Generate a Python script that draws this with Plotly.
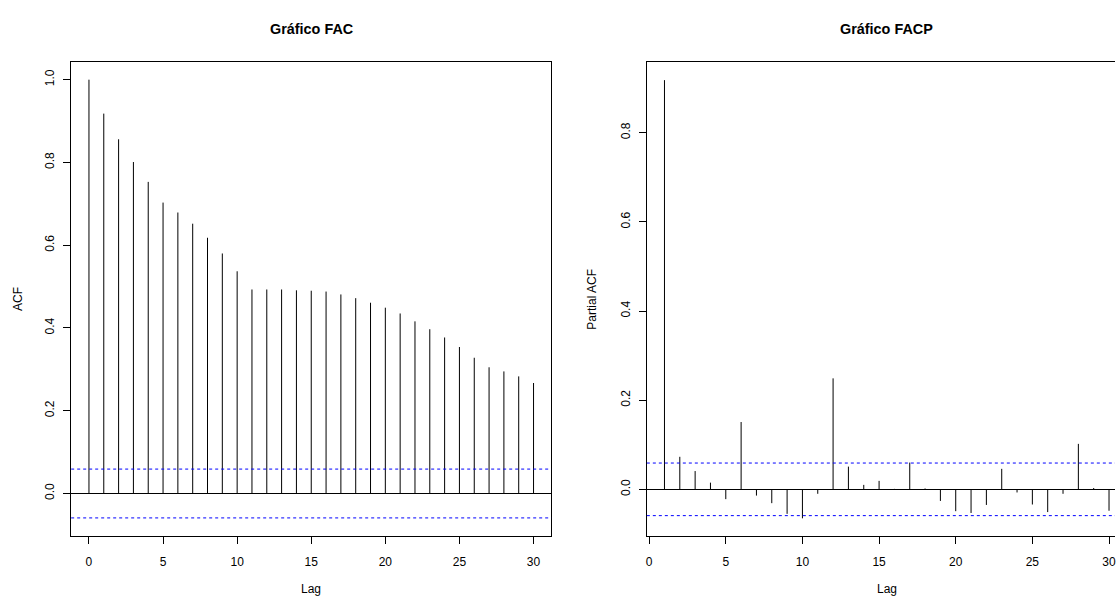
import plotly.graph_objects as go

# ---- data ----
acf_lags = list(range(0, 31))
acf_values = [1.000, 0.918, 0.856, 0.801, 0.753, 0.703, 0.679, 0.652, 0.618, 0.580,
              0.537, 0.493, 0.493, 0.493, 0.491, 0.490, 0.488, 0.481, 0.472, 0.461,
              0.449, 0.435, 0.416, 0.397, 0.377, 0.354, 0.328, 0.305, 0.295, 0.283,
              0.267]
pacf_lags = list(range(1, 31))
pacf_values = [0.918, 0.073, 0.041, 0.015, -0.022, 0.151, -0.014, -0.031, -0.055, -0.065,
               -0.010, 0.249, 0.051, 0.010, 0.019, 0.001, 0.060, 0.002, -0.026, -0.049,
               -0.053, -0.035, 0.046, -0.007, -0.034, -0.051, -0.010, 0.102, 0.003, -0.048]
conf_limit = 0.059
x_ticks = [0, 5, 10, 15, 20, 25, 30]
acf_yticks = [0.0, 0.2, 0.4, 0.6, 0.8, 1.0]
pacf_yticks = [0.0, 0.2, 0.4, 0.6, 0.8]
titles = ["Gráfico FAC", "Gráfico FACP"]
ylabels = ["ACF", "Partial ACF"]
xlabel = "Lag"

FONT = "Liberation Sans, Arial, Helvetica, sans-serif"
W, H = 1116, 597


def spikes(lags, vals):
    xs, ys = [], []
    for l, v in zip(lags, vals):
        xs += [l, l, None]
        ys += [0, v, None]
    return xs, ys


fig = go.Figure()
x1, y1 = spikes(acf_lags, acf_values)
fig.add_trace(go.Scatter(x=x1, y=y1, mode="lines", line=dict(color="black", width=1),
                         xaxis="x", yaxis="y", showlegend=False, hoverinfo="skip"))
x2, y2 = spikes(pacf_lags, pacf_values)
fig.add_trace(go.Scatter(x=x2, y=y2, mode="lines", line=dict(color="black", width=1),
                         xaxis="x2", yaxis="y2", showlegend=False, hoverinfo="skip"))

ydom = [1 - 535.7 / H, 1 - 62.3 / H]
axis_common = dict(showgrid=False, showline=True, linecolor="black", linewidth=1,
                   ticks="outside", ticklen=7, tickwidth=1, tickcolor="black",
                   ticklabeloverflow="allow",
                   tickfont=dict(family=FONT, size=12, color="black"))
xaxis_extra = dict(ticklabelstandoff=8)
yaxis_extra = dict(ticklabelstandoff=4)

fig.update_layout(
    width=W, height=H,
    margin=dict(l=0, r=0, t=0, b=0),
    paper_bgcolor="white", plot_bgcolor="white",
    xaxis=dict(domain=[70.3 / W, 551.3 / W], range=[-1.2, 31.2], tickvals=x_ticks,
               mirror=True, zeroline=False, anchor="y", **axis_common, **xaxis_extra),
    yaxis=dict(domain=ydom, range=[-0.102, 1.042], tickvals=acf_yticks, tickformat=".1f",
               tickangle=-90, mirror=True, zeroline=True, zerolinecolor="black",
               zerolinewidth=1, anchor="x", **axis_common, **yaxis_extra),
    xaxis2=dict(domain=[647 / W, 1.0], range=[-0.15, 30.39], tickvals=x_ticks,
                mirror=True, zeroline=False, anchor="y2", **axis_common, **xaxis_extra),
    yaxis2=dict(domain=ydom, range=[-0.104, 0.958], tickvals=pacf_yticks, tickformat=".1f",
                tickangle=-90, mirror=False, zeroline=True, zerolinecolor="black",
                zerolinewidth=1, anchor="x2", **axis_common, **yaxis_extra),
)

for xr, yr in (("x", "y"), ("x2", "y2")):
    for c in (conf_limit, -conf_limit):
        fig.add_shape(type="line", xref=f"{xr} domain", yref=yr, x0=0, x1=1, y0=c, y1=c,
                      line=dict(color="blue", width=1, dash="3px,3px"))

centers = [310.8 / W, 887.5 / W]
for cx, t in zip(centers, titles):
    fig.add_annotation(text=f"<b>{t}</b>", x=cx, y=1 - 28.5 / H, xref="paper", yref="paper",
                       showarrow=False, xanchor="center", yanchor="middle",
                       font=dict(family=FONT, size=14.4, color="black"))
    fig.add_annotation(text=xlabel, x=cx, y=1 - 589 / H, xref="paper", yref="paper",
                       showarrow=False, xanchor="center", yanchor="middle",
                       font=dict(family=FONT, size=12, color="black"))
for lx, t in zip([17 / W, 591.7 / W], ylabels):
    fig.add_annotation(text=t, x=lx, y=1 - 299 / H, xref="paper", yref="paper",
                       showarrow=False, xanchor="center", yanchor="middle", textangle=-90,
                       font=dict(family=FONT, size=12, color="black"))

fig.write_html("out.html")
